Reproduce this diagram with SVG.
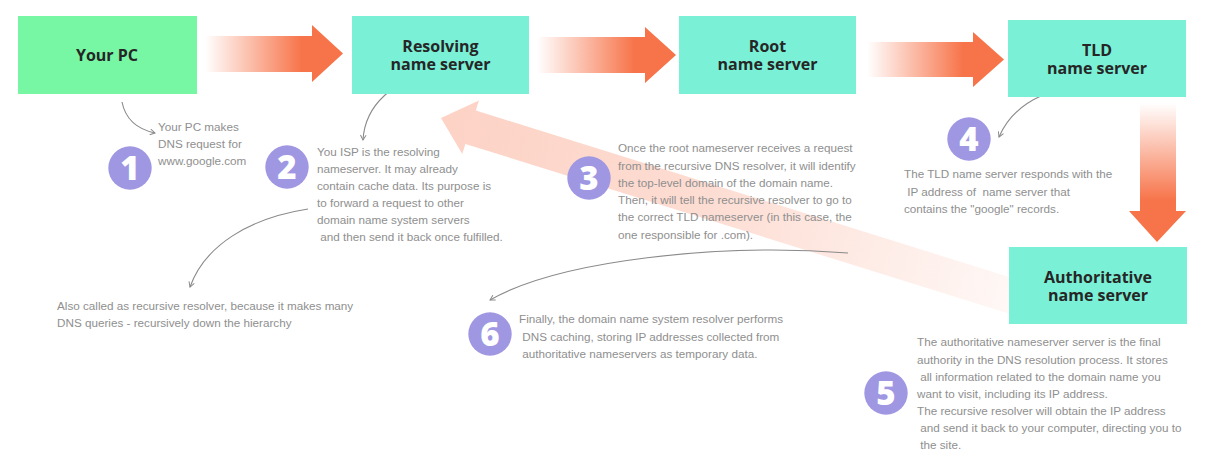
<svg xmlns="http://www.w3.org/2000/svg" width="1208" height="457" viewBox="0 0 1208 457">
<style>
.box{fill:#7AF1D6}
.pc{fill:#77F7A3}
.lbl{font-family:"Open Sans","Noto Sans",sans-serif;font-weight:700;font-size:16px;fill:#262626;text-anchor:middle}
.note{font-family:"Liberation Sans",Arial,sans-serif;font-size:11.7px;fill:#8f8f8f;white-space:pre}
.badge{fill:#A097E3}
.num{font-family:"Open Sans","Noto Sans",sans-serif;font-weight:800;font-size:33px;fill:#fff;text-anchor:middle}
.curve{fill:none;stroke:#8a8a8a;stroke-width:1.1;marker-end:url(#chev)}
</style>
<defs>
<linearGradient id="gh" x1="0" y1="0" x2="1" y2="0">
<stop offset="0" stop-color="#F7744A" stop-opacity="0"/>
<stop offset="0.7" stop-color="#F7744A" stop-opacity="1"/>
<stop offset="1" stop-color="#F7744A" stop-opacity="1"/>
</linearGradient>
<linearGradient id="gv" x1="0" y1="0" x2="0" y2="1">
<stop offset="0" stop-color="#F7744A" stop-opacity="0"/>
<stop offset="0.7" stop-color="#F7744A" stop-opacity="1"/>
<stop offset="1" stop-color="#F7744A" stop-opacity="1"/>
</linearGradient>
<linearGradient id="gd" x1="0" y1="0" x2="1" y2="0">
<stop offset="0" stop-color="#F7744A" stop-opacity="0.32"/>
<stop offset="0.45" stop-color="#F7744A" stop-opacity="0.25"/>
<stop offset="1" stop-color="#F7744A" stop-opacity="0.05"/>
</linearGradient>
<marker id="chev" viewBox="0 0 10 10" refX="8" refY="5" markerWidth="7" markerHeight="7" orient="auto" markerUnits="userSpaceOnUse">
<path d="M1,1 L8,5 L1,9" fill="none" stroke="#8a8a8a" stroke-width="1.4"/>
</marker>
</defs>
<rect width="1208" height="457" fill="#ffffff"/>

<g id="connectors">
<polygon id="arrow-pc-resolving" fill="url(#gh)" points="205,36 312,36 312,25 343,53.5 312,82 312,72 205,72"/>
<polygon id="arrow-resolving-root" fill="url(#gh)" points="537,37 645,37 645,27 676,55 645,83 645,73 537,73"/>
<polygon id="arrow-root-tld" fill="url(#gh)" points="867,42 973,42 973,32 1004,59.5 973,87 973,77 867,77"/>
<polygon id="arrow-tld-auth" fill="url(#gv)" points="1140,103 1176,103 1176,211 1186,211 1157,242 1129,211 1140,211"/>
<g id="arrow-auth-resolving" transform="translate(441,118) rotate(17.33)">
<polygon fill="url(#gd)" points="0,0 31,-28 31,-17.5 600,-17.5 600,17.5 31,17.5 31,28"/>
</g>
<path class="curve" d="M122,102 Q127,127 155,133"/>
<path class="curve" d="M433,75 C395,78 365,105 363,140"/>
<path class="curve" d="M308,209 C250,218 205,245 190,287"/>
<path class="curve" d="M1107,89 C1060,80 1015,100 999,137"/>
<path class="curve" d="M848,253 C720,243 560,260 490,300"/>
</g>

<g id="node-your-pc">
<rect class="pc" x="18" y="16" width="179" height="78"/>
<text class="lbl" x="107" y="61">Your PC</text>
</g>
<g id="node-resolving">
<rect class="box" x="352" y="16" width="177" height="78"/>
<text class="lbl" x="440.5" y="52">Resolving</text>
<text class="lbl" x="440.5" y="70">name server</text>
</g>
<g id="node-root">
<rect class="box" x="679" y="16" width="177" height="78"/>
<text class="lbl" x="767.5" y="52">Root</text>
<text class="lbl" x="767.5" y="70">name server</text>
</g>
<g id="node-tld">
<rect class="box" x="1008" y="20" width="178" height="77"/>
<text class="lbl" x="1097" y="56">TLD</text>
<text class="lbl" x="1097" y="74">name server</text>
</g>
<g id="node-authoritative">
<rect class="box" x="1009" y="247" width="178" height="77"/>
<text class="lbl" x="1098" y="283">Authoritative</text>
<text class="lbl" x="1098" y="301">name server</text>
</g>

<g id="step-1">
<circle class="badge" cx="130" cy="168" r="21.7"/>
<text class="num" x="130" y="180">1</text>
<text class="note" x="158" y="131">Your PC makes</text>
<text class="note" x="158" y="148">DNS request for</text>
<text class="note" x="158" y="165">www.google.com</text>
</g>
<g id="step-2">
<circle class="badge" cx="287" cy="167" r="21.7"/>
<text class="num" x="287" y="179">2</text>
<text class="note" x="317" y="156">You ISP is the resolving</text>
<text class="note" x="317" y="173">nameserver. It may already</text>
<text class="note" x="317" y="190">contain cache data. Its purpose is</text>
<text class="note" x="317" y="207">to forward a request to other</text>
<text class="note" x="317" y="224">domain name system servers</text>
<text class="note" x="317" y="241"> and then send it back once fulfilled.</text>
</g>
<g id="note-recursive">
<text class="note" x="57" y="310">Also called as recursive resolver, because it makes many</text>
<text class="note" x="57" y="327">DNS queries - recursively down the hierarchy</text>
</g>
<g id="step-3">
<circle class="badge" cx="589" cy="178" r="21.7"/>
<text class="num" x="589" y="190">3</text>
<text class="note" x="618" y="152">Once the root nameserver receives a request</text>
<text class="note" x="618" y="170">from the recursive DNS resolver, it will identify</text>
<text class="note" x="618" y="187">the top-level domain of the domain name.</text>
<text class="note" x="618" y="204">Then, it will tell the recursive resolver to go to</text>
<text class="note" x="618" y="221">the correct TLD nameserver (in this case, the</text>
<text class="note" x="618" y="239">one responsible for .com).</text>
</g>
<g id="step-4">
<circle class="badge" cx="969" cy="139" r="21.7"/>
<text class="num" x="969" y="151">4</text>
<text class="note" x="904" y="178">The TLD name server responds with the</text>
<text class="note" x="904" y="196"> IP address of  name server that</text>
<text class="note" x="904" y="213">contains the "google" records.</text>
</g>
<g id="step-5">
<circle class="badge" cx="886" cy="393" r="21.7"/>
<text class="num" x="886" y="405">5</text>
<text class="note" x="917" y="346">The authoritative nameserver server is the final</text>
<text class="note" x="917" y="364">authority in the DNS resolution process. It stores</text>
<text class="note" x="917" y="381"> all information related to the domain name you</text>
<text class="note" x="917" y="398">want to visit, including its IP address.</text>
<text class="note" x="917" y="415">The recursive resolver will obtain the IP address</text>
<text class="note" x="917" y="432"> and send it back to your computer, directing you to</text>
<text class="note" x="917" y="449"> the site.</text>
</g>
<g id="step-6">
<circle class="badge" cx="490" cy="334" r="21.7"/>
<text class="num" x="490" y="346">6</text>
<text class="note" x="519" y="323">Finally, the domain name system resolver performs</text>
<text class="note" x="519" y="341"> DNS caching, storing IP addresses collected from</text>
<text class="note" x="519" y="358"> authoritative nameservers as temporary data.</text>
</g>
</svg>
